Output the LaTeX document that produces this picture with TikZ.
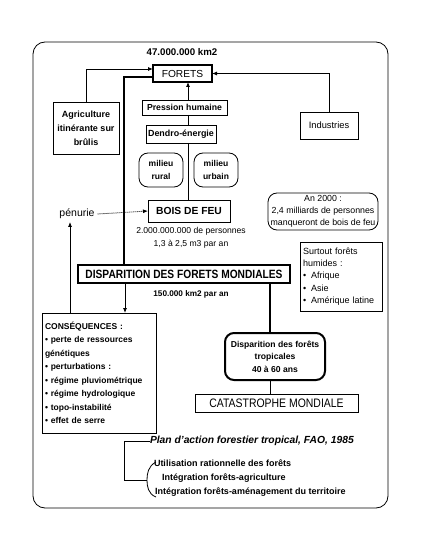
\documentclass[tikz,border=0pt]{standalone}
\usepackage{fontspec}
\setmainfont{Liberation Sans}
\newfontfamily\condfont[FakeStretch=0.85]{Liberation Sans}
\usetikzlibrary{arrows.meta}
\newcommand\myfs[2]{\fontsize{#1}{#2}\selectfont}
\begin{document}
\begin{tikzpicture}[x=1pt,y=-1pt,
  every node/.style={inner sep=0pt, outer sep=0pt},
  box/.style={draw, line width=0.8pt, align=center},
  rbox/.style={box, rounded corners=9pt},
  arr/.style={-{Latex[length=5pt,width=4pt]}},
  ln/.style={line width=0.8pt},
  thk/.style={line width=2.2pt}]
\useasboundingbox (0,0) rectangle (446,537);
\draw[ln, rounded corners=12pt] (33,42) rectangle (388,508);

\node[font=\bfseries\myfs{9.7}{12}] (km) at (182,52) {47.000.000 km2};
\node[box, line width=2pt, minimum width=59pt, minimum height=17pt, font=\myfs{10.2}{12}] (foret) at (182.5,73.5) {FORETS};
\node[box, minimum width=66pt, minimum height=52pt, font=\bfseries\myfs{9}{14}] (agri) at (86,128) {Agriculture\\itinérante sur\\brûlis};
\node[box, minimum width=58pt, minimum height=27pt, font=\myfs{9.3}{11}] (ind) at (329,125.5) {Industries};
\node[box, minimum width=85pt, minimum height=15pt, font=\bfseries\myfs{8.7}{10}] (press) at (184.5,107.5) {Pression humaine};
\node[box, minimum width=70pt, minimum height=18pt, font=\bfseries\myfs{8.9}{10}] (dendro) at (181,134) {Dendro-énergie};
\node[rbox, minimum width=44pt, minimum height=34pt, font=\bfseries\myfs{8.5}{13}] (rural) at (161,170) {milieu\\rural};
\node[rbox, minimum width=44pt, minimum height=34pt, font=\bfseries\myfs{8.5}{13}] (urbain) at (216,170) {milieu\\urbain};
\node[box, minimum width=82pt, minimum height=22pt, font=\bfseries\myfs{10.3}{12}] (bois) at (189,211) {BOIS DE FEU};
\node[font=\myfs{10.5}{12}] (pen) at (77,214) {pénurie};
\node[font=\myfs{8.6}{13}, align=center] (pers) at (191,237.5) {2.000.000.000 de personnes\\1,3 à 2,5 m3 par an};
\node[rbox, minimum width=110pt, minimum height=37pt, font=\myfs{8.8}{11.8}] (an) at (323,211.5) {An 2000 :\\2,4 milliards de personnes\\manqueront de bois de feu};
\node[box, minimum height=69pt, align=left, text width=76pt, inner xsep=3pt, font=\myfs{9}{12.2}] (surt) at (341,276.5) {Surtout forêts\\humides :\\•\hspace{5pt}Afrique\\•\hspace{5pt}Asie\\•\hspace{5pt}Amérique latine};
\node[box, line width=2.4pt, minimum width=212pt, minimum height=18pt, font=\condfont\bfseries\myfs{12}{12}] (disp) at (184,274) {DISPARITION DES FORETS MONDIALES};
\node[font=\bfseries\myfs{8.2}{10}] (km150) at (191,294) {150.000 km2 par an};
\node[box, minimum height=120pt, align=left, text width=108pt, inner xsep=3pt, font=\bfseries\myfs{8.5}{13.5}] (cons) at (99,373) {CONSÉQUENCES :\\• perte de ressources\\génétiques\\• perturbations :\\• régime pluviométrique\\• régime hydrologique\\• topo-instabilité\\• effet de serre};
\node[rbox, line width=2pt, minimum width=100pt, minimum height=47pt, font=\bfseries\myfs{8.6}{12.5}] (trop) at (275,356.5) {Disparition des forêts\\tropicales\\40 à 60 ans};
\node[box, minimum width=163pt, minimum height=18pt, font=\condfont\myfs{12.3}{12}] (cat) at (276.5,403) {CATASTROPHE MONDIALE};
\node[anchor=west, font=\bfseries\itshape\myfs{10.3}{12}] (plan) at (150,441) {Plan d'action forestier tropical, FAO, 1985};
\node[anchor=west, font=\bfseries\myfs{9}{10}] (i1) at (154,463) {Utilisation rationnelle des forêts};
\node[anchor=west, font=\bfseries\myfs{9}{10}] (i2) at (162,478) {Intégration forêts-agriculture};
\node[anchor=west, font=\bfseries\myfs{9}{10}] (i3) at (155,492) {Intégration forêts-aménagement du territoire};

\coordinate (ax) at (188,0);
\coordinate (tk) at (124,0);
\coordinate (cx) at (70,0);
\coordinate (dx) at (125,0);
\coordinate (ex) at (270,0);
\coordinate (bt) at (147,480);
\coordinate (pc) at (124,480);

\draw[ln,arr] (agri.north) |- ([yshift=4.5pt]foret.west);
\draw[ln,arr] (ind.north) |- (foret.east);
\draw[thk] ([yshift=-3.5pt]foret.west) -| (disp.north -| tk);
\draw[ln,arr] (press.north -| ax) -- (foret.south -| ax);
\draw[ln] (press.south -| ax) -- (dendro.north -| ax);
\draw[ln] (dendro.south -| ax) -- (bois.north -| ax);
\draw[ln,arr,dash pattern=on 1pt off 1pt] ([xshift=3pt]pen.east) -- (bois.west);
\draw[ln,arr] (cons.north -| cx) -- ([yshift=-3pt]pen.south -| cx);
\draw[ln,arr] (disp.south -| dx) -- (cons.north -| dx);
\draw[thk] (disp.south -| ex) -- (trop.north -| ex);
\draw[ln] (trop.south -| ex) -- (cat.north -| ex);
\draw[ln] (plan.west) -| (pc) -- (bt);
\draw[ln] (156,462) .. controls (148,466) and (147,474) .. (bt) .. controls (147,486) and (148,494) .. (156,497);
\end{tikzpicture}
\end{document}
